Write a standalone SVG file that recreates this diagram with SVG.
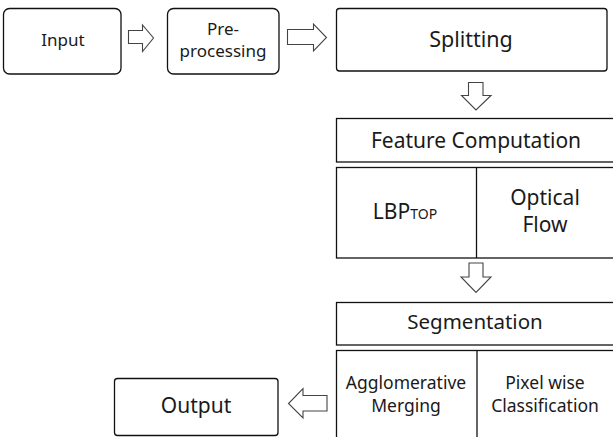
<svg xmlns="http://www.w3.org/2000/svg" width="613" height="437" viewBox="0 0 613 437">
<style>
.box{fill:#fff;stroke:#111;stroke-width:1.3}
.arr{fill:#fff;stroke:#444;stroke-width:1.1;stroke-linejoin:miter}
text{font-family:"Noto Sans","Open Sans",sans-serif;fill:#1a1a1a;text-anchor:middle}
</style>
<rect width="613" height="437" fill="#fff"/>
<g id="input"><rect class="box" x="3.5" y="8.5" width="117.5" height="65.5" rx="6"/><text x="63" y="46" font-size="17">Input</text></g>
<g id="preprocessing"><rect class="box" x="167.5" y="8.5" width="111.5" height="65.5" rx="6"/><text x="223" y="35" font-size="17">Pre-</text><text x="223" y="57" font-size="17">processing</text></g>
<g id="splitting"><rect class="box" x="336.5" y="8.5" width="270.5" height="62.5" rx="3"/><text x="471" y="47" font-size="21.5">Splitting</text></g>
<g id="feature"><rect class="box" x="336.5" y="118.5" width="290" height="43.5"/><text x="476" y="148" font-size="21">Feature Computation</text></g>
<g id="features"><rect class="box" x="336.5" y="167.5" width="290" height="90.5"/><line x1="476.5" y1="167.5" x2="476.5" y2="258" stroke="#111" stroke-width="1.3"/><text x="405" y="219" font-size="21">LBP<tspan font-size="14">TOP</tspan></text><text x="545" y="205" font-size="21">Optical</text><text x="545" y="232" font-size="21">Flow</text></g>
<g id="segmentation"><rect class="box" x="336.5" y="302.5" width="290" height="42.5"/><text x="475" y="329" font-size="20.5">Segmentation</text></g>
<g id="methods"><rect class="box" x="336.5" y="350.5" width="290" height="95"/><line x1="477" y1="350.5" x2="477" y2="445" stroke="#111" stroke-width="1.3"/><text x="406" y="389" font-size="17.5">Agglomerative</text><text x="406" y="412" font-size="17.5">Merging</text><text x="545" y="389" font-size="17.5">Pixel wise</text><text x="545" y="412" font-size="17.5">Classification</text></g>
<g id="output"><rect class="box" x="114.5" y="378.5" width="163.5" height="57" rx="3"/><text x="196" y="413" font-size="21">Output</text></g>
<g id="connectors">
<polygon class="arr" points="128.5,30.5 142.5,30.5 142.5,25 153.5,38 142.5,51.5 142.5,43.5 128.5,43.5"/>
<polygon class="arr" points="287.5,29.5 313.5,29.5 313.5,24 326.5,37.5 313.5,51 313.5,44.5 287.5,44.5"/>
<polygon class="arr" points="468.5,82.5 483,82.5 483,95.5 491,95.5 476,110 461.5,95.5 468.5,95.5"/>
<polygon class="arr" points="469,263 483,263 483,277 491,277 476,292.5 461,277 469,277"/>
<polygon class="arr" points="327,395.5 303,395.5 303,388.5 288.5,403.5 303,418 303,411 327,411"/>
</g>
</svg>
